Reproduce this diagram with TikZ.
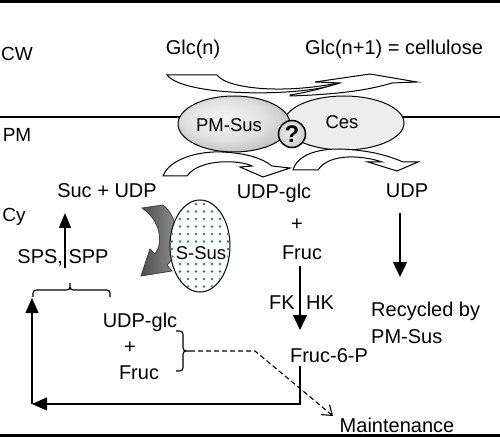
\documentclass[tikz,border=0pt]{standalone}
\usepackage{fontspec}
\setmainfont{Liberation Sans}
\usetikzlibrary{arrows.meta,shapes.geometric}
\definecolor{dotgreen}{HTML}{1F8A4C}
\pgfdeclareradialshading{pmsusshade}{\pgfpoint{-6bp}{6bp}}{color(0bp)=(black!4); color(18bp)=(black!12); color(38bp)=(black!35); color(50bp)=(black!60)}
\pgfdeclareradialshading{qshade}{\pgfpoint{-4bp}{4bp}}{color(0bp)=(black!8); color(25bp)=(black!18); color(50bp)=(black!45)}
\begin{document}
\begin{tikzpicture}[x=1pt,y=-1pt,
  lbl/.style={inner sep=0pt,font=\fontsize{20}{27}\selectfont},
  smalllbl/.style={inner sep=0pt,font=\fontsize{18.5}{22}\selectfont},
  conn/.style={line width=1.3pt},
  solidtip/.style={-{Triangle[width=14pt,length=15pt]}},
  bandarrow/.style={fill=white,draw=black,line width=1pt,line join=miter},
  brace/.style={line width=1.2pt}
]
\useasboundingbox (0,0) rectangle (500,438);
% frame lines
\draw[line width=3pt] (0,2) -- (500,2);
\draw[line width=2.5pt] (0,435.5) -- (500,435.5);
\draw[line width=1.5pt] (0,117) -- (500,117);

% region labels
\node[lbl,font=\fontsize{19}{22}\selectfont] (cw) at (17,54) {CW};
\node[lbl,font=\fontsize{19}{22}\selectfont] (pm) at (17,135) {PM};
\node[lbl,font=\fontsize{19}{22}\selectfont] (cy) at (14,217) {Cy};

% top texts
\node[lbl] (glcn) at (193,49) {Glc(n)};
\node[lbl] (cell) at (394,49) {Glc(n+1) = cellulose};

% top band arrows
\draw[bandarrow] (167,75) -- (217,75) .. controls (228,90) and (290,94) .. (342,82)
   .. controls (310,97) and (185,98) .. (167,75) -- cycle;
\draw[bandarrow] (290,95) .. controls (310,92) and (330,86) .. (340,83) -- (315,82) -- (370,74) -- (417,82) -- (392,83)
   .. controls (375,88) and (350,94) .. (290,96) -- cycle;

% membrane proteins
\node[draw=black,line width=1pt,ellipse,fill=black!7,minimum width=120pt,minimum height=54pt,inner sep=0pt] (ces) at (344,123) {};
\node[smalllbl] (ceslbl) at (342,122) {Ces};
\node[draw=black,line width=1pt,ellipse,shading=pmsusshade,minimum width=112pt,minimum height=56pt,inner sep=0pt] (pmsus) at (234,124) {};
\node[smalllbl] (pmsuslbl) at (229,125) {PM-Sus};
\node[circle,draw=black,line width=1.5pt,shading=qshade,minimum size=27pt,inner sep=0pt,font=\fontsize{24}{26}\selectfont\bfseries] (q) at (292,134) {?};

% bottom band arrows
\draw[bandarrow] (163,176) .. controls (170,158) and (200,151) .. (222,152) .. controls (245,153) and (262,158) .. (272,166)
   -- (290,168) -- (263,177) -- (240,167) -- (252,166) .. controls (240,160) and (200,158) .. (187,176) -- cycle;
\draw[bandarrow] (293,170) .. controls (298,154) and (318,149) .. (340,149) .. controls (365,150) and (385,154) .. (403,162)
   -- (418,162) -- (397,171) -- (368,162) -- (382,162) .. controls (365,156) and (330,152) .. (318,170) -- cycle;

% cytosol texts
\node[lbl] (sucudp) at (107,191) {Suc + UDP};
\node[lbl] (udpglc) at (274,193) {UDP-glc};
\node[lbl] (plus1) at (297,225) {+};
\node[lbl] (fruc1) at (302,253) {Fruc};
\node[lbl] (udp) at (407,191) {UDP};
\node[lbl,align=left,anchor=west] (recyc) at (371,323) {Recycled by\\PM-Sus};
\node[lbl] (fk) at (282,303) {FK};
\node[lbl] (hk) at (320,303) {HK};
\node[lbl] (f6p) at (329,356) {Fruc-6-P};
\node[lbl] (maint) at (397,425) {Maintenance};
\node[lbl] (sps) at (63,258) {SPS, SPP};
\node[lbl] (udpglc2) at (140,322) {UDP-glc};
\node[lbl] (plus2) at (130,348) {+};
\node[lbl] (fruc2) at (139,373) {Fruc};

% S-Sus gray arrow
\draw[left color=black!70,right color=black!40,draw=black!75,line width=0.8pt,line join=miter]
  (142,208) -- (163,205) .. controls (180,218) and (182,252) .. (167,265) -- (172,271) -- (141,276) -- (150,249) -- (155,254)
  .. controls (164,242) and (160,220) .. (142,208) -- cycle;

% S-Sus ellipse with green dots
\node[draw=black,line width=1pt,ellipse,fill=white,minimum width=60pt,minimum height=92pt,inner sep=0pt] (ssus) at (200,246) {};
\begin{scope}
  \clip (200,246) ellipse [x radius=29pt, y radius=45pt];
  \foreach \i in {0,...,8} {
    \foreach \j in {0,...,12} {
      \fill[dotgreen] (172+\i*8,204+\j*7.5) circle [radius=1.3pt];
    }
  }
\end{scope}
\node[smalllbl,fill=white,inner sep=0.5pt] (ssuslbl) at (201,253) {S-Sus};

% coordinates for connectors
\coordinate (udpdown) at (400,213);
\coordinate (udpend) at (400,277);
\coordinate (frucdown) at (300,266);
\coordinate (f6ptop) at (300,330);
\coordinate (f6pbot) at (300,366);
\coordinate (loopleft) at (32,404);
\coordinate (loopup) at (32,298);
\coordinate (spsbot) at (65,268);
\coordinate (suctip) at (65,213);
\coordinate (bracetip) at (190,351);
\coordinate (dashbend) at (255,351);
\coordinate (maintip) at (333,416);

% solid arrows
\draw[conn,solidtip] (udpdown) -- (udpend);
\draw[conn,solidtip] (frucdown) -- (f6ptop);
\draw[conn,-{Triangle[width=13pt,length=15pt]}] (f6pbot) |- (loopleft);
\draw[conn,-{Triangle[width=13pt,length=15pt]}] (loopleft) -- (loopup);
\draw[conn,-{Triangle[width=12pt,length=15pt]}] (spsbot) -- (suctip);

% braces
\draw[brace] (33,297) .. controls (33,290) .. (40,290) -- (63,290) .. controls (70,290) .. (70,283)
  .. controls (70,290) .. (77,290) -- (103,290) .. controls (110,290) .. (110,297);
\draw[brace] (176,331) .. controls (183,331) .. (183,338) -- (183,344) .. controls (183,351) .. (190,351)
  .. controls (183,351) .. (183,358) -- (183,364) .. controls (183,371) .. (176,371);

% dashed maintenance arrow
\draw[line width=1.1pt,dash pattern=on 5pt off 3pt,-{Straight Barb[length=9pt,width=13pt]}] (bracetip) -- (dashbend) -- (maintip);
\end{tikzpicture}
\end{document}
